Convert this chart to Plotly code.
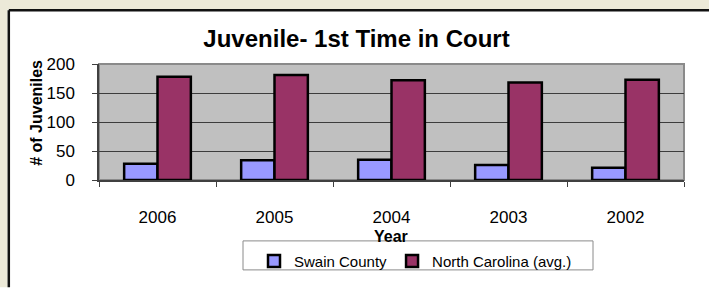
import plotly.graph_objects as go

years = ["2006", "2005", "2004", "2003", "2002"]
swain_county = [28, 34, 35, 26, 21]
north_carolina_avg = [178, 181, 172, 168, 173]
series_names = ["Swain County", "North Carolina (avg.)"]
y_ticks = [0, 50, 100, 150, 200]

W, H = 709, 290
L, R, T, B = 99, 25, 64, 106
PW, PH = W - L - R, H - T - B

def px(x):
    return (x - L) / PW

def py(y):
    return (H - B - y) / PH

FONT = "Liberation Sans, Arial, sans-serif"
BEIGE = "#ECE9D8"

fig = go.Figure()
fig.add_trace(go.Bar(x=years, y=swain_county, name=series_names[0],
                     marker=dict(color="#9999FF", line=dict(color="black", width=2.5))))
fig.add_trace(go.Bar(x=years, y=north_carolina_avg, name=series_names[1],
                     marker=dict(color="#993366", line=dict(color="black", width=2.5))))

shapes = [
    dict(type="rect", xref="paper", yref="paper", x0=0, x1=1, y0=0, y1=1,
         line=dict(color="#8a8a8a", width=2), layer="below"),
    dict(type="rect", xref="paper", yref="paper", x0=px(-5), x1=px(W + 5), y0=py(-5), y1=py(7.5),
         fillcolor=BEIGE, line=dict(width=0)),
    dict(type="rect", xref="paper", yref="paper", x0=px(-5), x1=px(7.5), y0=py(H + 5), y1=py(-5),
         fillcolor=BEIGE, line=dict(width=0)),
    dict(type="line", xref="paper", yref="paper", x0=px(8.8), x1=px(W + 5), y0=py(8.5), y1=py(8.5),
         line=dict(color="#111111", width=2.5)),
    dict(type="line", xref="paper", yref="paper", x0=px(8.8), x1=px(8.8), y0=py(8.5), y1=py(H + 5),
         line=dict(color="#111111", width=2.5)),
    dict(type="rect", xref="paper", yref="paper", x0=px(243), x1=px(593), y0=py(247), y1=py(277),
         line=dict(color="#8a8a8a", width=1)),
]

annotations = [
    dict(text="<b># of Juveniles</b>", xref="paper", yref="paper", x=px(37), y=py(114.5),
         textangle=-90, showarrow=False, font=dict(family=FONT, size=16, color="black"),
         xanchor="center", yanchor="middle"),
    dict(text="<b>Year</b>", xref="paper", yref="paper", x=px(390.5), y=py(242),
         showarrow=False, font=dict(family=FONT, size=16, color="black"),
         xanchor="center", yanchor="middle"),
]

fig.update_layout(
    width=W, height=H,
    margin=dict(l=L, r=R, t=T, b=B, pad=0),
    paper_bgcolor="#FFFFFF",
    plot_bgcolor="#C0C0C0",
    barmode="group", bargap=0.43, bargroupgap=0,
    font=dict(family=FONT, color="black"),
    title=dict(text="<b>Juvenile- 1st Time in Court</b>", x=356.5 / W, y=1 - 39 / H,
               xref="container", yref="container", xanchor="center", yanchor="middle",
               font=dict(family=FONT, size=24, color="black")),
    showlegend=True,
    legend=dict(orientation="h", x=px(254), y=py(251), xanchor="left", yanchor="top",
                xref="paper", yref="paper", bgcolor="rgba(0,0,0,0)", borderwidth=0,
                font=dict(family=FONT, size=15, color="black"),
                itemclick=False),
    shapes=shapes,
    annotations=annotations,
)

fig.update_xaxes(type="category", showgrid=False, zeroline=False,
                 showline=True, linecolor="#404040", linewidth=1.5,
                 ticks="outside", tickson="boundaries", ticklen=5, tickcolor="#404040",
                 tickfont=dict(family=FONT, size=17, color="black"), ticklabelstandoff=21)
fig.update_yaxes(range=[0, 200], tickvals=y_ticks, showgrid=True, gridcolor="#3c3c3c", gridwidth=1,
                 zeroline=False, showline=True, linecolor="#404040", linewidth=1.5,
                 ticks="outside", ticklen=5, tickcolor="#404040",
                 tickfont=dict(family=FONT, size=17, color="black"), ticklabelstandoff=14)

fig.write_html("out.html", config={"displayModeBar": False},
               post_script="document.documentElement.style.overflow='hidden';document.body.style.margin='0';document.body.style.overflow='hidden';document.body.style.background='#ffffff';")
